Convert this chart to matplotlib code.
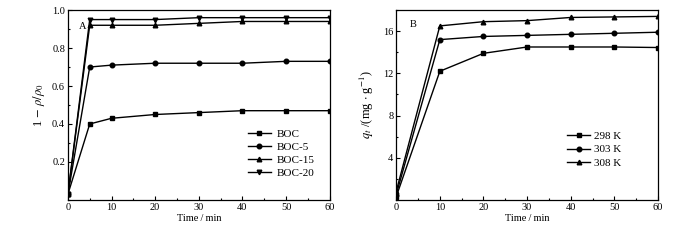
import matplotlib
matplotlib.use('Agg')
import matplotlib.pyplot as plt
from matplotlib.ticker import MultipleLocator

plt.rcParams['font.family'] = ['Liberation Serif', 'DejaVu Serif']
plt.rcParams['mathtext.fontset'] = 'stix'

# panel A: removal ratio
time_a = [0, 5, 10, 20, 30, 40, 50, 60]
boc = [0.03, 0.40, 0.43, 0.45, 0.46, 0.47, 0.47, 0.47]
boc5 = [0.03, 0.70, 0.71, 0.72, 0.72, 0.72, 0.73, 0.73]
boc15 = [0.03, 0.92, 0.92, 0.92, 0.93, 0.94, 0.94, 0.94]
boc20 = [0.03, 0.95, 0.95, 0.95, 0.96, 0.96, 0.96, 0.96]
labels_a = ['BOC', 'BOC-5', 'BOC-15', 'BOC-20']

# panel B: adsorption capacity
time_b = [0, 10, 20, 30, 40, 50, 60]
q298 = [0.3, 12.2, 13.9, 14.5, 14.5, 14.5, 14.45]
q303 = [0.5, 15.2, 15.5, 15.6, 15.7, 15.8, 15.9]
q308 = [0.8, 16.5, 16.9, 17.0, 17.3, 17.35, 17.4]
labels_b = ['298 K', '303 K', '308 K']

markers = ['s', 'o', '^', 'v']

fig = plt.figure(figsize=(7, 2.4), dpi=100)
axA = fig.add_axes([0.097, 0.167, 0.374, 0.791])
axB = fig.add_axes([0.566, 0.167, 0.374, 0.791])

for ys, lab, m in zip([boc, boc5, boc15, boc20], labels_a, markers):
    axA.plot(time_a, ys, color='k', lw=1.0, marker=m, ms=3.3, label=lab)
for ys, lab, m in zip([q298, q303, q308], labels_b, markers):
    axB.plot(time_b, ys, color='k', lw=1.0, marker=m, ms=3.3, label=lab)

axA.set_xlim(0, 60); axA.set_ylim(0, 1.0)
axA.set_yticks([0.2, 0.4, 0.6, 0.8, 1.0])
axA.set_yticklabels(['0.2', '0.4', '0.6', '0.8', '1.0'])
axA.yaxis.set_minor_locator(MultipleLocator(0.1))
axA.set_ylabel(r'1$\,-\,\rho/\rho_0$', fontsize=9, labelpad=4)
axA.text(2.5, 0.915, 'A', fontsize=7.5, va='center')

axB.set_xlim(0, 60); axB.set_ylim(0, 18)
axB.set_yticks([4, 8, 12, 16])
axB.yaxis.set_minor_locator(MultipleLocator(2))
axB.set_ylabel(r'$q_t$ /(mg $\cdot$ g$^{-1}$)', fontsize=9, labelpad=5)
axB.text(3.2, 16.6, 'B', fontsize=7.5, va='center')

for ax in (axA, axB):
    ax.set_xticks([0, 10, 20, 30, 40, 50, 60])
    ax.xaxis.set_minor_locator(MultipleLocator(5))
    ax.tick_params(which='both', direction='in', labelsize=7.5, pad=2)
    ax.tick_params(which='major', length=3, width=0.8)
    ax.tick_params(which='minor', length=1.5, width=0.8)
    ax.set_xlabel('Time\u2009/\u2009min', fontsize=7.5, labelpad=1.5)
    for s in ax.spines.values():
        s.set_linewidth(0.9)

axA.legend(loc='upper left', bbox_to_anchor=(0.687, 0.374), frameon=False, fontsize=8,
           borderpad=0, borderaxespad=0, handlelength=2.1, labelspacing=0.3,
           handletextpad=0.5)
axB.legend(loc='upper left', bbox_to_anchor=(0.653, 0.36), frameon=False, fontsize=8,
           borderpad=0, borderaxespad=0, handlelength=2.1, labelspacing=0.3,
           handletextpad=0.3)

fig.savefig('out.png', dpi=100)
